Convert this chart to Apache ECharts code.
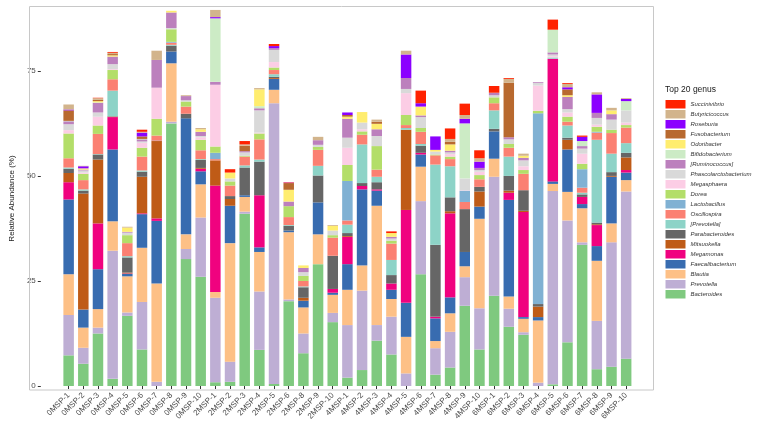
<!DOCTYPE html>
<html>
<head>
<meta charset="utf-8">
<script src="https://cdn.jsdelivr.net/npm/echarts@6/dist/echarts.min.js"></script>
<style>html,body{margin:0;padding:0;background:#fff;}#chart{width:758px;height:430px;}</style>
</head>
<body>
<div id="chart"></div>
<script>
var categories = ["0MSP-1","0MSP-2","0MSP-3","0MSP-4","0MSP-5","0MSP-6","0MSP-7","0MSP-8","0MSP-9","0MSP-10",
  "2MSP-1","2MSP-2","2MSP-3","2MSP-4","2MSP-5","2MSP-6","2MSP-8","2MSP-9","2MSP-10",
  "4MSP-1","4MSP-2","4MSP-3","4MSP-4","4MSP-5","4MSP-6","4MSP-7","4MSP-8","4MSP-9","4MSP-10",
  "6MSP-1","6MSP-2","6MSP-3","6MSP-4","6MSP-5","6MSP-6","6MSP-7","6MSP-8","6MSP-9","6MSP-10"];

var bacteroides = [7.3,5.3,12.5,1.7,16.7,8.7,0,62.5,30.2,26.0, 0.9,1.0,41.0,8.6,0.5,20.2,7.8,29.0,15.2, 2.0,3.8,10.8,7.5,0,26.6,2.7,4.4,19.1,8.7, 21.5,14.1,12.2,0,0.4,10.4,33.6,4.0,4.6,6.5];
var prevotella = [9.6,3.8,1.4,30.5,0.8,11.3,1.0,0.4,2.4,14.1, 20.1,4.8,0.5,13.9,66.8,0.4,4.7,0,2.2, 12.5,18.9,3.7,9.0,3.0,17.4,6.3,8.5,6.8,9.8, 28.3,4.3,0.6,0.8,46.0,29.0,0.6,11.5,29.6,39.8];
var blautia = [9.7,4.8,4.4,7.0,8.6,12.9,23.4,13.9,3.5,7.9, 1.4,28.2,3.5,9.4,3.2,16.0,6.2,7.1,4.3, 8.4,6.0,28.4,4.2,8.7,8.2,1.7,4.4,2.6,21.3, 4.3,2.9,3.2,14.8,1.7,6.8,8.1,14.3,4.5,2.7];
var faecalibacterium = [17.8,4.3,9.5,17.1,0.6,8.0,14.9,2.8,27.6,3.1, 0,8.9,0.4,1.1,2.6,0.4,1.6,7.6,0.5, 6.1,18.1,3.6,2.2,8.1,2.9,5.4,3.8,3.4,2.9, 6.5,23.0,0.4,0.8,0.6,10.1,1.0,3.5,11.1,1.8];
var megamonas = [4.1,0,10.9,7.7,0.1,0.2,0.6,0,0,0.6, 25.3,0,0,12.4,0,0,0,0,0.9, 6.5,0.8,0.3,1.5,22.1,0.4,0.4,20.0,0,0, 0,1.7,25.0,0,29.2,0,1.7,5.0,0,0.6];
var mitsuokella = [2.2,27.6,15.2,0.1,0.2,8.7,18.4,0,0,0.2, 6.0,1.6,0,0,0.2,0,0.7,0,0, 0.2,0,0,0,19.1,0,0,0.5,0,3.6, 0,0.5,0.3,2.5,0,2.3,0,0.2,0.2,3.0];
var parabacteroides = [1.0,0.7,1.2,0.1,3.6,1.2,0.1,1.4,1.1,1.9, 0,0.7,6.6,8.0,0.3,1.1,2.5,6.4,7.9, 0.7,0.7,1.7,2.0,0,1.7,17.1,3.3,10.2,1.1, 0.6,3.5,4.9,0.6,0,0.5,0.6,0.4,0.9,1.1];
var prevotellaB = [0.3,0.3,0.1,6.1,0.3,0.3,0,0.2,0,0.2, 0,0,0.5,0.5,0.6,0.2,0.2,2.3,0, 2.0,9.2,1.3,3.6,0.4,0.4,19.1,7.4,0,0, 4.4,4.6,0,0,0.3,2.9,0.4,19.7,4.4,2.3];
var oscillospira = [2.2,2.2,4.8,2.7,3.1,3.3,1.2,0.5,1.7,2.1, 0.3,2.5,2.1,4.8,1.0,1.9,1.3,3.8,4.3, 1.0,2.3,1.7,3.9,0.7,2.9,2.2,1.7,1.7,1.8, 1.7,2.1,3.9,0,0,0.9,1.2,1.7,4.9,3.7];
var lactobacillus = [0,0,0,0,0,0,0,0.2,0,0, 1.5,0,0,0,0,0,0,0,0, 9.4,0,0,0,0,0,0,0,2.7,0, 0,0,0,45.4,0,0,4.4,0.2,0,0];
var dorea = [5.9,1.5,2.0,2.2,1.9,2.1,4.0,3.0,1.2,2.5, 1.5,1.0,0.2,1.4,0.6,2.6,1.2,0.7,0.6, 3.8,0.8,5.6,0.7,2.4,0.9,0.2,0.6,0,1.0, 1.4,0.9,0.9,0.6,0,1.2,1.3,1.2,0.8,0.6];
var megasphaera = [0.8,0.3,2.1,0.2,0,1.2,7.4,0,0,0.6, 14.7,0,0,0.2,1.3,0,0,0,0, 4.1,0.5,0,0,5.2,0,0,0.6,0.1,0.8, 0,0,0.9,6.0,0.3,1.0,2.4,0.5,0,0.6];
var phascolarctobacterium = [1.4,0.5,1.0,1.2,0.6,0.3,0,0.3,0.3,0.3, 0,0.7,0.8,5.3,2.9,0,0.9,0.5,1.1, 2.4,1.6,2.4,0.5,1.0,2.6,0.7,0.4,2.8,0.4, 0.5,1.1,1.4,0.6,0.4,0.8,1.2,1.6,2.4,2.9];
var ruminococcus = [0.7,0.2,2.3,1.8,0.2,0.5,6.6,3.7,1.0,1.0, 0.7,0,0.3,0.5,0.4,1.1,1.0,1.1,0, 4.5,0,1.6,0.4,2.6,0.4,0,0.4,0,0.5, 0.6,0.5,0.6,0.2,0.5,2.9,0.6,1.2,1.3,0];
var bifidobacterium = [0.1,0,0.1,0,0,0.1,0,0,0,0, 15.1,0,0,0.5,0,0,0,0,0, 0,0,0,0,0,0,0,0,13.1,0, 0,0,0,0,5.4,0,1.2,0,0,2.2];
var odoribacter = [0,0.3,0.3,0.3,1.0,0,0,0.4,0,0.6, 0,1.4,0,4.0,0,2.8,0.6,0,1.1, 0.5,2.5,1.3,0.9,0,2.1,0.4,1.5,0,0, 0,0,0.5,0,0,0.4,0,0,0.9,0];
var fusobacterium = [2.5,0,0.3,0.3,0,0.6,0,0,0,0, 0,0,1.3,0,0,1.6,0,0,0, 0.4,0,0.5,0,0,0,0,0.6,0,0, 0,13.0,0,0,0,1.4,0,0,0,0];
var roseburia = [0.2,0.5,0,0,0,0.9,0,0,0,0, 0.3,0,0,0,0.5,0.1,0,0,0, 0.6,0,0,0,5.6,0.8,3.2,0,1.1,1.5, 0,0,0,0,0,0.5,1.0,4.4,0,0.5];
var butyricicoccus = [1.2,0.1,0.4,0.3,0.2,0.2,2.2,0,0.2,0.3, 1.7,0,0.3,0.3,0,0,0,0.8,0.2, 0,0,0.5,0,0.9,0,0,0.7,0.9,0.8, 0,0.9,0.5,0,0,0.8,0,0.5,0.6,0.2];
var succinivibrio = [0,0,0.1,0.2,0,0.5,0,0,0,0, 0,0.8,0.8,0,0.5,0.1,0,0,0, 0,0,0,0.4,0,3.0,0,2.5,2.7,1.9, 1.6,0.2,0,0,2.4,0.2,0.3,0,0,0];

var genusNames = ["Bacteroides","Prevotella","Blautia","Faecalibacterium","Megamonas","Mitsuokella","Parabacteroides","[Prevotella]","Oscillospira","Lactobacillus","Dorea","Megasphaera","Phascolarctobacterium","[Ruminococcus]","Bifidobacterium","Odoribacter","Fusobacterium","Roseburia","Butyricicoccus","Succinivibrio"];
var genusColors = ["#7FC97F","#BEAED4","#FDC086","#386CB0","#F0027F","#BF5B17","#666666","#8DD3C7","#FB8072","#80B1D3","#B3DE69","#FCCDE5","#D9D9D9","#BC80BD","#CCEBC5","#FFED6F","#B8692F","#8B00FF","#D2B48C","#FF2200"];
var genusValues = [bacteroides,prevotella,blautia,faecalibacterium,megamonas,mitsuokella,parabacteroides,prevotellaB,oscillospira,lactobacillus,dorea,megasphaera,phascolarctobacterium,ruminococcus,bifidobacterium,odoribacter,fusobacterium,roseburia,butyricicoccus,succinivibrio];
var yTicks = [0,25,50,75];

var FONT = "'Liberation Sans', Arial, sans-serif";
var chart = echarts.init(document.getElementById('chart'), null, {renderer:'canvas'});
var series = genusNames.map(function(n,i){
  return {name:n, type:'bar', stack:'total', data:genusValues[i], barWidth:10.5,
    itemStyle:{color:genusColors[i]}, emphasis:{disabled:true}};
});
chart.setOption({
  animation:false,
  textStyle:{fontFamily:FONT},
  title:{text:'Top 20 genus', left:665, top:85, padding:0,
    textStyle:{fontSize:8.5, fontWeight:'normal', color:'#1a1a1a', fontFamily:FONT}},
  legend:{orient:'vertical', left:665.5, top:100, padding:0, itemWidth:20, itemHeight:8.5, itemGap:1.5,
    icon:'rect', data:genusNames.slice().reverse(), selectedMode:false,
    textStyle:{fontSize:6, fontStyle:'italic', color:'#333', fontFamily:FONT, padding:[0,0,0,0], lineHeight:8.5},
    itemStyle:{borderWidth:0}},
  grid:{left:49.5, right:124.5, top:7, bottom:40},
  xAxis:{type:'category', data:categories,
    axisLine:{show:false},
    axisTick:{show:true, alignWithLabel:true, length:3, lineStyle:{color:'#333'}},
    axisLabel:{interval:0, rotate:45, fontSize:8, color:'#4d4d4d', margin:4, fontFamily:FONT}},
  yAxis:{type:'value', min:-0.95, max:90.2, offset:20.5,
    name:'Relative Abundance (%)', nameLocation:'middle', nameGap:18, nameRotate:90,
    nameTextStyle:{fontSize:8, color:'#1a1a1a', fontFamily:FONT},
    axisLine:{show:false}, splitLine:{show:false},
    axisTick:{show:true, length:3, customValues:yTicks, lineStyle:{color:'#333'}},
    axisLabel:{customValues:yTicks, fontSize:8, color:'#4d4d4d', margin:5, fontFamily:FONT}},
  graphic:[{type:'rect', shape:{x:29.5, y:6.5, width:624, height:383.5},
    style:{fill:'none', stroke:'#c8c8c8', lineWidth:1}, silent:true, z:100}],
  series:series
});
</script>
</body>
</html>
